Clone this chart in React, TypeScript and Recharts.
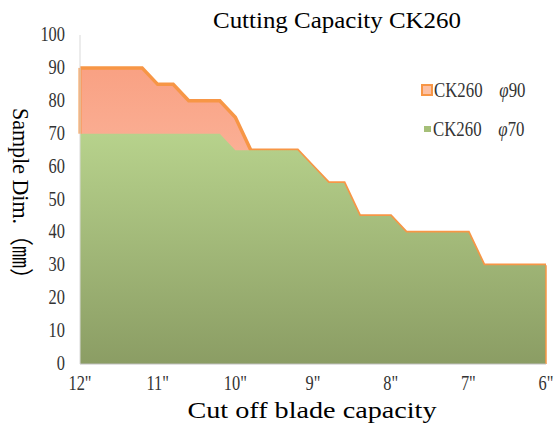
import {
  Area,
  ComposedChart,
  ReferenceLine,
  XAxis,
  YAxis,
} from "recharts";

// blade sizes every 0.2", labels shown on whole inches only
const sizes = [
  '12"', '11.8"', '11.6"', '11.4"', '11.2"', '11"', '10.8"', '10.6"', '10.4"', '10.2"',
  '10"', '9.8"', '9.6"', '9.4"', '9.2"', '9"', '8.8"', '8.6"', '8.4"', '8.2"',
  '8"', '7.8"', '7.6"', '7.4"', '7.2"', '7"', '6.8"', '6.6"', '6.4"', '6.2"', '6"',
];

const phi90 = [
  90, 90, 90, 90, 90, 85, 85, 80, 80, 80,
  75, 65, 65, 65, 65, 60, 55, 55, 45, 45,
  45, 40, 40, 40, 40, 40, 30, 30, 30, 30, 30,
];

const phi70 = [
  70, 70, 70, 70, 70, 70, 70, 70, 70, 70,
  65, 65, 65, 65, 65, 60, 55, 55, 45, 45,
  45, 40, 40, 40, 40, 40, 30, 30, 30, 30, 30,
];

const yTicks = [0, 10, 20, 30, 40, 50, 60, 70, 80, 90, 100];

const data = sizes.map((size, i) => ({
  size,
  phi90: phi90[i],
  phi70: phi70[i],
}));

const FONT = "'Liberation Serif', 'Noto Sans CJK TC', serif";
const ORANGE = "#F79646";

// narrow, tall tick text like the original's MingLiU
function Tick(props: any) {
  const { x, y, payload, textAnchor, orientation } = props;
  const dy = orientation === "bottom" ? 16 : 6;
  return (
    <text
      transform={`translate(${x},${y + dy}) scale(0.82,1)`}
      textAnchor={textAnchor}
      fontFamily={FONT}
      fontSize={20}
      fill="#333"
    >
      {payload.value}
    </text>
  );
}

function LegendBox() {
  const row = {
    display: "flex",
    alignItems: "center",
    fontFamily: FONT,
    fontSize: 20,
    color: "#333",
    whiteSpace: "pre" as const,
  };
  const label = {
    display: "inline-block",
    transform: "scaleX(0.84)",
    transformOrigin: "left center",
  };
  return (
    <div style={{ position: "absolute", left: 421, top: 79, width: 134 }}>
      <div style={{ ...row, height: 22 }}>
        <span
          style={{
            width: 8,
            height: 8,
            background: "#FCC0A4",
            border: `2px solid ${ORANGE}`,
            marginRight: 1,
          }}
        />
        <span style={label}>
          CK260    <i>φ</i>90
        </span>
      </div>
      <div style={{ ...row, height: 22, marginTop: 17 }}>
        <span
          style={{
            width: 7,
            height: 6,
            background: "#A5BF78",
            marginLeft: 3,
            marginRight: 2,
          }}
        />
        <span style={label}>
          CK260    <i>φ</i>70
        </span>
      </div>
    </div>
  );
}

export default function App() {
  const last = sizes[sizes.length - 1];
  return (
    <div
      style={{
        position: "fixed",
        left: 0,
        top: 0,
        width: 555,
        height: 427,
        background: "#fff",
      }}
    >
      <ComposedChart
        width={555}
        height={427}
        data={data}
        margin={{ top: 35, right: 9, bottom: 0, left: 0 }}
      >
        <defs>
          <linearGradient id="grad90" x1="0" y1="0" x2="0" y2="1">
            <stop offset="0%" stopColor="#F9A183" />
            <stop offset="100%" stopColor="#FFD3C2" />
          </linearGradient>
          <linearGradient id="grad70" x1="0" y1="0" x2="0" y2="1">
            <stop offset="0%" stopColor="#B7D28C" />
            <stop offset="100%" stopColor="#8B9D64" />
          </linearGradient>
        </defs>
        <XAxis
          dataKey="size"
          scale="point"
          padding={{ left: 0, right: 0 }}
          interval={4}
          height={63}
          tickLine={false}
          tickMargin={4}
          axisLine={{ stroke: "#BFBFBF" }}
          tick={<Tick />}
        />
        <YAxis
          domain={[0, 100]}
          ticks={yTicks}
          width={80}
          tickLine={false}
          tickMargin={9}
          axisLine={{ stroke: "#D9D9D9" }}
          tick={<Tick />}
        />
        <Area
          type="linear"
          dataKey="phi90"
          name="CK260 φ90"
          fill="url(#grad90)"
          fillOpacity={1}
          stroke={ORANGE}
          strokeWidth={3.5}
          isAnimationActive={false}
        />
        <Area
          type="linear"
          dataKey="phi70"
          name="CK260 φ70"
          fill="url(#grad70)"
          fillOpacity={1}
          stroke="none"
          isAnimationActive={false}
        />
        <ReferenceLine
          segment={[
            { x: sizes[0], y: phi70[0] },
            { x: sizes[0], y: phi90[0] },
          ]}
          stroke={ORANGE}
          strokeWidth={3}
        />
        <ReferenceLine
          segment={[
            { x: last, y: 0 },
            { x: last, y: phi90[phi90.length - 1] },
          ]}
          stroke={ORANGE}
          strokeWidth={1.5}
        />
      </ComposedChart>
      <LegendBox />
      <svg
        width={555}
        height={427}
        style={{ position: "absolute", left: 0, top: 0, pointerEvents: "none" }}
      >
        <text
          x={337}
          y={28}
          textAnchor="middle"
          fontFamily={FONT}
          fontSize={24}
          fill="#000"
          textLength={248}
          lengthAdjust="spacingAndGlyphs"
        >
          Cutting Capacity CK260
        </text>
        <text
          x={312}
          y={418}
          textAnchor="middle"
          fontFamily={FONT}
          fontSize={24}
          fill="#000"
          textLength={249}
          lengthAdjust="spacingAndGlyphs"
        >
          Cut off blade capacity
        </text>
        <text
          x={0}
          y={0}
          transform="translate(13,199) rotate(90)"
          textAnchor="middle"
          fontFamily={FONT}
          fontSize={24}
          fill="#000"
          textLength={182}
          lengthAdjust="spacingAndGlyphs"
        >
          Sample Dim.（㎜）
        </text>
      </svg>
    </div>
  );
}
